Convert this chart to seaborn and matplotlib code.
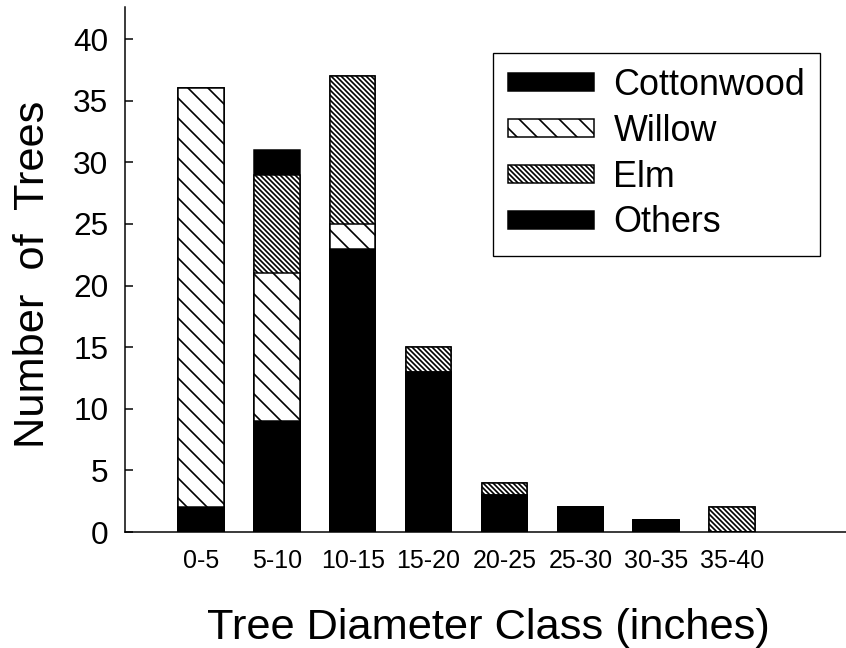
import matplotlib
matplotlib.use("Agg")
import matplotlib.pyplot as plt
from matplotlib.patches import Patch
import numpy as np
import pandas as pd
import seaborn as sns

# ---- data ----
classes = ["0-5", "5-10", "10-15", "15-20", "20-25", "25-30", "30-35", "35-40"]
cottonwood = [2, 9, 23, 13, 3, 2, 1, 0]
willow = [34, 12, 2, 0, 0, 0, 0, 0]
elm = [0, 8, 12, 2, 1, 0, 0, 2]
others = [0, 2, 0, 0, 0, 0, 0, 0]
species = ["Cottonwood", "Willow", "Elm", "Others"]
yticks = [0, 5, 10, 15, 20, 25, 30, 35, 40]

sns.set_style("ticks")
plt.rcParams["font.family"] = ["Liberation Sans", "DejaVu Sans"]
plt.rcParams["hatch.linewidth"] = 1.0
plt.rcParams["text.color"] = "black"
plt.rcParams["axes.labelcolor"] = "black"
plt.rcParams["xtick.color"] = "black"
plt.rcParams["ytick.color"] = "black"

WILLOW_HATCH = "\\" * 2
ELM_HATCH = "\\" * 8

DPI = 120
fig = plt.figure(figsize=(846 / DPI, 648 / DPI), dpi=DPI)
ax = fig.add_axes([125 / 846, 1 - 532 / 648, 1 - 125 / 846, (532 - 7) / 648])

c1 = np.array(cottonwood)
c2 = c1 + np.array(willow)
c3 = c2 + np.array(elm)
c4 = c3 + np.array(others)

df = pd.DataFrame({"cls": classes, "c1": c1, "c2": c2, "c3": c3, "c4": c4})

layers = [
    ("c4", "black", None),
    ("c3", "white", ELM_HATCH),
    ("c2", "white", WILLOW_HATCH),
    ("c1", "black", None),
]
for col, fc, hatch in layers:
    kw = {}
    if hatch:
        kw["hatch"] = hatch
    sns.barplot(data=df, x="cls", y=col, order=classes, color=fc, saturation=1,
                width=0.6, edgecolor="black", linewidth=0.9, ax=ax, **kw)

ax.set_xlim(-1, 8.5)
ax.set_ylim(0, 42.6)
ax.set_yticks(yticks)
ax.set_yticklabels([str(v) for v in yticks], fontsize=19)
ax.tick_params(axis="y", direction="in", length=5, width=0.9, pad=10, colors="black")
ax.tick_params(axis="x", length=0, pad=10.5, labelsize=15, colors="black")

for s in ["top", "right"]:
    ax.spines[s].set_visible(False)
for s in ["left", "bottom"]:
    ax.spines[s].set_linewidth(0.9)
    ax.spines[s].set_color("black")

ax.set_xlabel("Tree Diameter Class (inches)", fontsize=26, color="black")
ax.set_ylabel("Number  of  Trees", fontsize=26, color="black")
ax.xaxis.set_label_coords(0.504, -0.144)
ax.yaxis.set_label_coords(-0.10, 0.49)

handles = [
    Patch(facecolor="black", edgecolor="black", linewidth=0.9),
    Patch(facecolor="white", edgecolor="black", linewidth=0.9, hatch=WILLOW_HATCH),
    Patch(facecolor="white", edgecolor="black", linewidth=0.9, hatch=ELM_HATCH),
    Patch(facecolor="black", edgecolor="black", linewidth=0.9),
]
leg = ax.legend(handles, species, loc="upper left", bbox_to_anchor=(0.510, 0.912),
                borderaxespad=0, fontsize=21.5, handlelength=2.4, handleheight=0.4,
                handletextpad=0.55, borderpad=0.42, labelspacing=0.3,
                frameon=True, fancybox=False, framealpha=1, edgecolor="black")
leg.get_frame().set_linewidth(0.8)
for t in leg.get_texts():
    t.set_color("black")

fig.savefig("out.png", dpi=DPI)
